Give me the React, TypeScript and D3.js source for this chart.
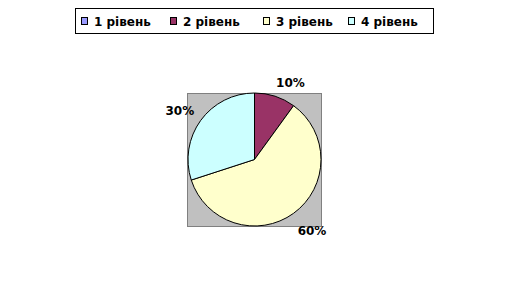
import React from "react";
import * as d3 from "d3";

const categories = ["1 рівень", "2 рівень", "3 рівень", "4 рівень"];
const values = [0, 10, 60, 30];
const colors = ["#9999FF", "#993366", "#FFFFCC", "#CCFFFF"];

const W = 511;
const H = 290;
const cx = 254.5;
const cy = 159.5;
const R = 66.5;

export default function App() {
  const pie = d3.pie<number>().sort(null).value((d) => d)(values);
  const arc = d3.arc<d3.PieArcDatum<number>>().innerRadius(0).outerRadius(R);
  const labelArc = d3.arc<d3.PieArcDatum<number>>().innerRadius(R + 11).outerRadius(R + 11);
  const total = d3.sum(values);
  const legendX = [81, 170, 263, 348];
  const font = "'DejaVu Sans', Verdana, sans-serif";
  return (
    <svg
      width={W}
      height={H}
      style={{ position: "fixed", left: 0, top: 0, background: "#fff" }}
      fontFamily={font}
    >
      <rect x={0} y={0} width={W} height={H} fill="#fff" />
      {/* legend */}
      <rect x={75.5} y={8.5} width={358} height={25} fill="#fff" stroke="#000" strokeWidth={1} />
      {categories.map((c, i) => (
        <g key={c}>
          <rect x={legendX[i] + 0.5} y={17.5} width={6} height={7} fill={colors[i]} stroke="#000" strokeWidth={1} />
          <text x={legendX[i] + 13} y={25.5} fontSize={12} fontWeight="bold" fill="#000">
            {c}
          </text>
        </g>
      ))}
      {/* plot area */}
      <rect x={187.5} y={93.5} width={134} height={133} fill="#C0C0C0" stroke="#808080" strokeWidth={1} />
      <g transform={`translate(${cx},${cy})`}>
        {pie.map((p, i) =>
          p.value > 0 ? (
            <path key={i} d={arc(p) || ""} fill={colors[i]} stroke="#000" strokeWidth={1} />
          ) : null
        )}
        {pie.map((p, i) => {
          if (p.value <= 0) return null;
          const [lx, ly] = labelArc.centroid(p);
          const ox = Math.sign(lx) * 12;
          const oy = Math.sign(ly) * 5.5 + 3;
          return (
            <text
              key={"l" + i}
              x={lx + ox}
              y={ly + oy}
              textAnchor="middle"
              dominantBaseline="central"
              fontSize={12}
              fontWeight="bold"
              fill="#000"
            >
              {Math.round((p.value / total) * 100) + "%"}
            </text>
          );
        })}
      </g>
    </svg>
  );
}
